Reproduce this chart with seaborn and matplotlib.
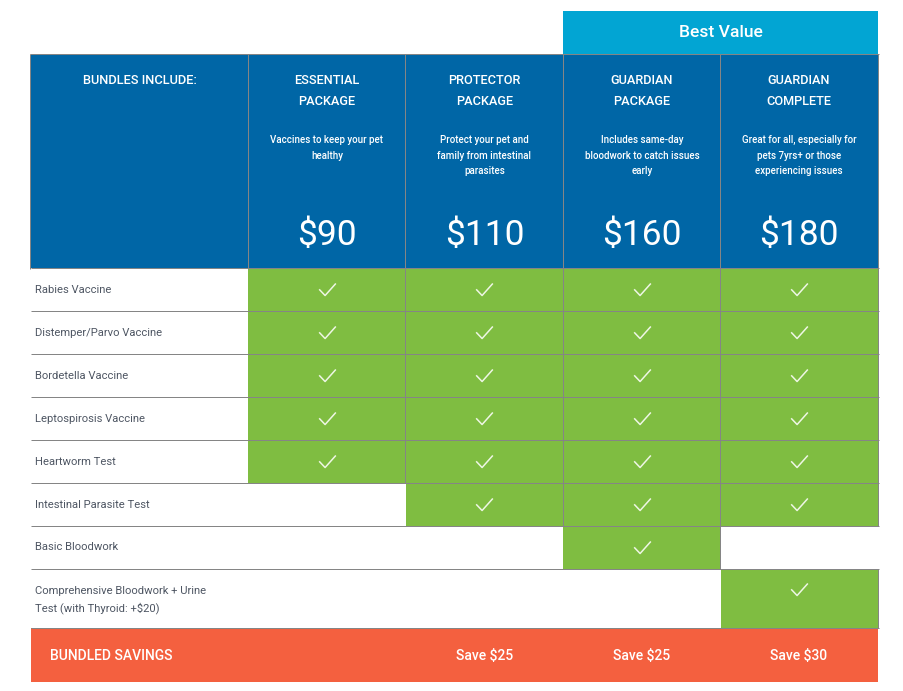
import numpy as np
import matplotlib
matplotlib.use("Agg")
import matplotlib.pyplot as plt
from matplotlib.colors import ListedColormap
from matplotlib.path import Path
import seaborn as sns

packages = [["ESSENTIAL", "PACKAGE"], ["PROTECTOR", "PACKAGE"], ["GUARDIAN", "PACKAGE"], ["GUARDIAN", "COMPLETE"]]
descriptions = [
    ["Vaccines to keep your pet", "healthy"],
    ["Protect your pet and", "family from intestinal", "parasites"],
    ["Includes same-day", "bloodwork to catch issues", "early"],
    ["Great for all, especially for", "pets 7yrs+ or those", "experiencing issues"],
]
prices = ["$90", "$110", "$160", "$180"]
services = [
    "Rabies Vaccine",
    "Distemper/Parvo Vaccine",
    "Bordetella Vaccine",
    "Leptospirosis Vaccine",
    "Heartworm Test",
    "Intestinal Parasite Test",
    "Basic Bloodwork",
]
last_service = ["Comprehensive Bloodwork + Urine", "Test (with Thyroid: +$20)"]
included = [
    [1, 1, 1, 1],
    [1, 1, 1, 1],
    [1, 1, 1, 1],
    [1, 1, 1, 1],
    [1, 1, 1, 1],
    [0, 1, 1, 1],
    [0, 0, 1, 0],
]
last_included = [[0, 0, 0, 1]]
savings = ["", "Save $25", "Save $25", "Save $30"]

BLUE = "#0066A6"
CYAN = "#02A5D3"
GREEN = "#7FBD41"
ORANGE = "#F4603F"
GRID = "#858585"
TEXT = "#4E5663"
W, H = 904, 691

sns.set_theme(style="white")
plt.rcParams["font.family"] = ["Roboto", "DejaVu Sans"]

# pixel positions of the table
col_x = [248, 405, 563, 720, 878]
col_mid = [327, 484.5, 642, 799]
row_y = [268, 311, 354, 397, 440, 483, 526, 569, 628]

fig = plt.figure(figsize=(W / 100, H / 100), dpi=100, facecolor="white")


def px_axes(x0, y0, x1, y1):
    return fig.add_axes([x0 / W, 1 - y1 / H, (x1 - x0) / W, (y1 - y0) / H])


check = Path([(-8.3, 0.2), (-2.4, -6), (8.3, 6)], [Path.MOVETO, Path.LINETO, Path.LINETO])
cmap = ListedColormap(["white", GREEN])


def draw_block(ax, matrix, check_y):
    matrix = np.array(matrix)
    sns.heatmap(matrix, ax=ax, cmap=cmap, vmin=0, vmax=1, cbar=False, xticklabels=False, yticklabels=False)
    rows, cols = np.nonzero(matrix)
    ax.plot(cols + 0.497, rows + check_y, ls="none", marker=check, ms=12, mfc="none", mec="#EEF6E4", mew=1.1)


draw_block(px_axes(248.4, row_y[0], 878.4, row_y[7]), included, 0.49)
draw_block(px_axes(248.4, row_y[7], 878.4, row_y[8]), last_included, 0.34)

# overlay in pixel coordinates for header, savings, lines and text
ax = fig.add_axes([0, 0, 1, 1], facecolor="none")
ax.set_xlim(0, W)
ax.set_ylim(H, 0)
ax.axis("off")

ax.bar(720.5, 43, width=315, bottom=11, color=CYAN, linewidth=0, snap=False)
ax.bar(454.5, 214, width=847, bottom=54, color=BLUE, linewidth=0, snap=False)
ax.bar(454.5, 54, width=847, bottom=628, color=ORANGE, linewidth=0, snap=False)

# grey edge on the right of each green cell
for r, row in enumerate(included):
    for c, on in enumerate(row):
        if on:
            ax.vlines(col_x[c + 1], row_y[r], row_y[r + 1], color=GRID, lw=0.72)
ax.vlines(col_x[4], row_y[7], row_y[8], color=GRID, lw=0.72)

ax.hlines([54], 30, 879, color=GRID, lw=0.72)
ax.hlines(row_y, 31, 879, color=GRID, lw=0.72)
ax.vlines([30] + col_x, 54, 269, color=GRID, lw=0.72)

ax.text(721, 32.5, "Best Value", color="white", fontsize=12.6, fontweight="medium", ha="center", va="center")
ax.text(140, 80.5, "BUNDLES INCLUDE:", color="white", fontsize=9.3, fontweight="medium", ha="center", va="center")

for i, mid in enumerate(col_mid):
    for line, y in zip(packages[i], [80.5, 101.5]):
        ax.text(mid, y, line, color="white", fontsize=9.2, fontweight="medium", ha="center", va="center")
    for line, y in zip(descriptions[i], [140, 155.5, 171]):
        ax.text(mid, y, line, color="white", fontsize=7, fontweight="medium", ha="center", va="center")
    ax.text(mid, 235.5, prices[i], color="white", fontsize=25.5, ha="center", va="center")
    ax.text(mid, 655.5, savings[i], color="white", fontsize=10, fontweight="medium", ha="center", va="center")

for name, top, bottom in zip(services, row_y[:-2], row_y[1:-1]):
    ax.text(35, (top + bottom) / 2, name, color=TEXT, fontsize=8.15, ha="left", va="center")
for line, y in zip(last_service, [590.5, 608]):
    ax.text(35, y, line, color=TEXT, fontsize=8.15, ha="left", va="center")
ax.text(50, 655.5, "BUNDLED SAVINGS", color="white", fontsize=10, fontweight="medium", ha="left", va="center")

fig.savefig("out.png", dpi=100)
